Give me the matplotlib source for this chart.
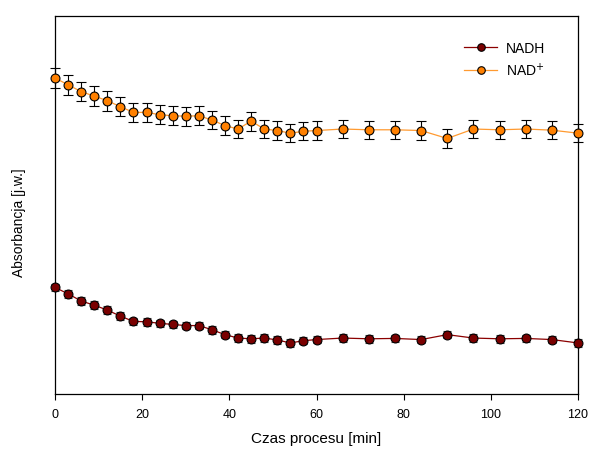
import matplotlib.pyplot as plt
import numpy as np

plt.rcParams['font.family'] = ['Liberation Sans', 'DejaVu Sans']

# czas procesu [min]
czas = [0, 3, 6, 9, 12, 15, 18, 21, 24, 27, 30, 33, 36, 39, 42, 45, 48, 51, 54, 57, 60,
        66, 72, 78, 84, 90, 96, 102, 108, 114, 120]

nadh = [0.282, 0.265, 0.246, 0.235, 0.222, 0.206, 0.192, 0.191, 0.187, 0.184, 0.181,
        0.181, 0.170, 0.157, 0.148, 0.146, 0.148, 0.143, 0.135, 0.141, 0.144,
        0.148, 0.146, 0.147, 0.144, 0.157, 0.148, 0.146, 0.147, 0.144, 0.135]
nadh_err = [0.010] * len(czas)

nad = [0.836, 0.818, 0.800, 0.788, 0.776, 0.760, 0.745, 0.745, 0.739, 0.736, 0.735,
       0.736, 0.725, 0.710, 0.701, 0.722, 0.701, 0.697, 0.690, 0.695, 0.697,
       0.701, 0.699, 0.699, 0.697, 0.676, 0.701, 0.699, 0.701, 0.698, 0.690]
nad_err = [0.027, 0.026, 0.026, 0.026, 0.026, 0.025, 0.025, 0.025, 0.025, 0.025, 0.025,
           0.025, 0.025, 0.025, 0.025, 0.025, 0.024, 0.024, 0.024, 0.024, 0.024,
           0.024, 0.024, 0.024, 0.024, 0.024, 0.024, 0.024, 0.024, 0.024, 0.024]

fig = plt.figure(figsize=(5.9, 4.56), dpi=100)
ax = fig.add_axes([0.0932, 0.1338, 0.8865, 0.8289])

ax.errorbar(czas, nadh, yerr=nadh_err, fmt='-o', color='#8b0000', lw=0.9,
            ms=6.4, mfc='#7a0000', mec='black', mew=0.8,
            ecolor='#444444', elinewidth=0.8, capsize=2.6, capthick=0.8,
            label='NADH', clip_on=False, zorder=3)
ax.errorbar(czas, nad, yerr=nad_err, fmt='-o', color='#ff9a30', lw=0.9,
            ms=6.4, mfc='#ff8000', mec='black', mew=0.8,
            ecolor='black', elinewidth=0.8, capsize=3.6, capthick=0.8,
            label='NAD$^{+}$', clip_on=False, zorder=3)

ax.set_xlim(0, 120)
ax.set_ylim(0, 1.0)
ax.set_xticks(np.arange(0, 121, 20))
ax.set_yticks([])
ax.tick_params(axis='x', direction='out', length=4, width=0.8, labelsize=9, pad=6)
for s in ax.spines.values():
    s.set_linewidth(0.9)

ax.set_xlabel('Czas procesu [min]', fontsize=11, labelpad=8)
ax.set_ylabel('Absorbancja [j.w.]', fontsize=10)
ax.yaxis.set_label_coords(-0.055, 0.455)

handles, labels = ax.get_legend_handles_labels()
handles = [h[0] for h in handles]
ax.legend(handles, labels, loc='upper left', bbox_to_anchor=(0.782, 0.935),
          borderaxespad=0, borderpad=0, frameon=False, fontsize=10,
          handlelength=2.4, handletextpad=0.6, labelspacing=0.45,
          markerscale=0.85)

fig.savefig('out.png', dpi=100)
